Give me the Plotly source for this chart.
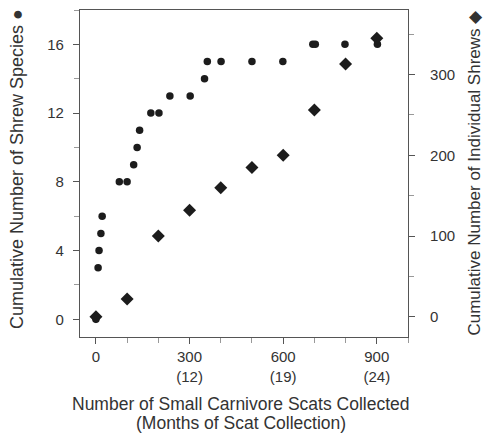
import plotly.graph_objects as go

# Data
scats_species = [0, 7, 10, 16, 20, 75, 100, 121, 132, 140, 176, 202, 237, 302, 348, 357, 401, 500, 599, 695, 703, 798, 902]
species = [0, 3, 4, 5, 6, 8, 8, 9, 10, 11, 12, 12, 13, 13, 14, 15, 15, 15, 15, 16, 16, 16, 16]

scats_indiv = [0, 100, 200, 300, 400, 500, 600, 700, 800, 900]
individuals = [0, 22, 100, 132, 160, 185, 200, 256, 313, 345]

x_tickvals = [0, 300, 600, 900]
x_ticktext = ["0", "300<br>(12)", "600<br>(19)", "900<br>(24)"]
y_tickvals = [0, 4, 8, 12, 16]
y2_tickvals = [0, 100, 200, 300]

INK = "#1c1c1c"
AXC = "#555555"
TXT = "#333333"
FONT = "Liberation Sans, Arial, sans-serif"

fig = go.Figure()
fig.add_trace(go.Scatter(x=scats_species, y=species, mode="markers",
                         marker=dict(symbol="circle", size=7.5, color=INK),
                         showlegend=False, yaxis="y"))
fig.add_trace(go.Scatter(x=scats_indiv, y=individuals, mode="markers",
                         marker=dict(symbol="diamond", size=10, color=INK),
                         showlegend=False, yaxis="y2"))

fig.update_layout(
    width=485, height=437,
    margin=dict(l=80, r=77, t=10, b=100, autoexpand=False),
    paper_bgcolor="white", plot_bgcolor="white",
    font=dict(family=FONT, size=15, color=TXT),
    xaxis=dict(range=[-51, 1000], tickvals=x_tickvals, ticktext=x_ticktext,
               showgrid=False, zeroline=False, showline=True, mirror=True,
               linecolor=AXC, linewidth=1.2, ticks="outside", ticklen=6,
               tickcolor=AXC, tickfont=dict(size=15, color=TXT),
               minor=dict(dtick=100, tick0=0, ticks="outside", ticklen=5, tickcolor="#999999")),
    yaxis=dict(range=[-1.03, 18], tickvals=y_tickvals,
               showgrid=False, zeroline=False, showline=True,
               linecolor=AXC, linewidth=1.2, ticks="outside", ticklen=6,
               tickcolor=AXC, ticklabelstandoff=6,
               tickfont=dict(size=15, color=TXT),
               minor=dict(dtick=2, tick0=0, ticks="outside", ticklen=5, tickcolor="#999999")),
    yaxis2=dict(range=[-25, 380], tickvals=y2_tickvals, overlaying="y", side="right",
                showgrid=False, zeroline=False, showline=True,
                linecolor=AXC, linewidth=1.2, ticks="outside", ticklen=6,
                tickcolor=AXC, ticklabelstandoff=12,
                tickfont=dict(size=15, color=TXT),
                minor=dict(dtick=50, tick0=0, ticks="outside", ticklen=5, tickcolor="#999999")),
    annotations=[
        dict(text="Cumulative Number of Shrew Species \u25CF", textangle=-90,
             xref="paper", yref="paper", x=-0.192, y=1.009,
             xanchor="center", yanchor="top", showarrow=False,
             font=dict(size=18, color=TXT)),
        dict(text="Cumulative Number of Individual Shrews \u25C6", textangle=-90,
             xref="paper", yref="paper", x=1.2027, y=1.009,
             xanchor="center", yanchor="top", showarrow=False,
             font=dict(size=17, color=TXT)),
        dict(text="Number of Small Carnivore Scats Collected",
             xref="paper", yref="paper", x=0.49, y=-0.2064,
             xanchor="center", yanchor="middle", showarrow=False,
             font=dict(size=17.5, color=TXT)),
        dict(text="(Months of Scat Collection)",
             xref="paper", yref="paper", x=0.49, y=-0.263,
             xanchor="center", yanchor="middle", showarrow=False,
             font=dict(size=17.5, color=TXT)),
    ],
)

fig.write_html(
    "out.html",
    config={"displayModeBar": False},
    post_script=("document.body.style.margin='0';"
                 "document.body.style.overflow='hidden';"
                 "document.documentElement.style.overflow='hidden';"),
)
